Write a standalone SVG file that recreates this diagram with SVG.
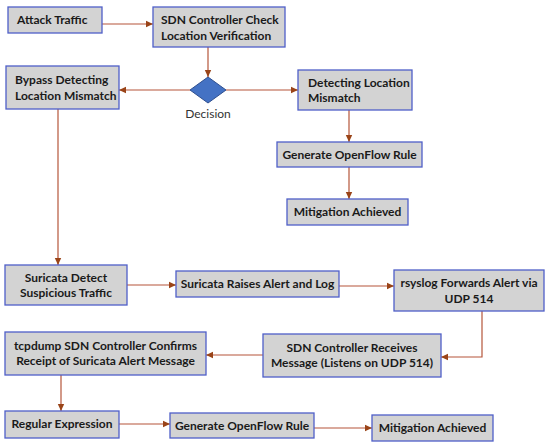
<svg xmlns="http://www.w3.org/2000/svg" width="550" height="447" viewBox="0 0 550 447">
<style>
.box{fill:#D3D3D3;stroke:#4F5FC8;stroke-width:1.3}
.t{font-family:Lato,"Liberation Sans",sans-serif;font-weight:bold;font-size:12px;fill:#1a1a1a}
.c{text-anchor:middle}
.ln{fill:none;stroke:#B5553A;stroke-width:1.2}
</style>
<defs>
<marker id="ah" markerUnits="userSpaceOnUse" markerWidth="8" markerHeight="8" refX="7" refY="4" orient="auto">
<path d="M0,0.8 L7,4 L0,7.2 Z" fill="#9A4418"/>
</marker>
</defs>
<rect width="550" height="447" fill="#fff"/>
<g id="connectors">
<line class="ln" x1="102" y1="24" x2="153" y2="24" marker-end="url(#ah)"/>
<line class="ln" x1="208" y1="47" x2="208" y2="77" marker-end="url(#ah)"/>
<line class="ln" x1="190" y1="90" x2="119" y2="90" marker-end="url(#ah)"/>
<line class="ln" x1="226" y1="90" x2="298" y2="90" marker-end="url(#ah)"/>
<line class="ln" x1="349" y1="110" x2="349" y2="142" marker-end="url(#ah)"/>
<line class="ln" x1="349" y1="167" x2="349" y2="199" marker-end="url(#ah)"/>
<line class="ln" x1="58" y1="109" x2="58" y2="265" marker-end="url(#ah)"/>
<line class="ln" x1="127" y1="285" x2="176" y2="285" marker-end="url(#ah)"/>
<line class="ln" x1="339" y1="286" x2="394" y2="286" marker-end="url(#ah)"/>
<polyline class="ln" points="482,311 482,357 441,357" marker-end="url(#ah)"/>
<line class="ln" x1="263" y1="355" x2="206" y2="355" marker-end="url(#ah)"/>
<line class="ln" x1="61" y1="375" x2="61" y2="411" marker-end="url(#ah)"/>
<line class="ln" x1="119" y1="424" x2="170" y2="424" marker-end="url(#ah)"/>
<line class="ln" x1="314" y1="428" x2="372" y2="428" marker-end="url(#ah)"/>
</g>
<g id="attack"><rect class="box" x="8" y="7" width="94" height="26"/><text class="t" x="17" y="24">Attack Traffic</text></g>
<g id="sdnCheck"><rect class="box" x="153" y="7" width="132" height="40"/><text class="t" x="161" y="24">SDN Controller Check</text><text class="t" x="161" y="40">Location Verification</text></g>
<g id="decision"><polygon points="208,77 226,90 208,103 190,90" fill="#4472C4" stroke="#2F4F8F" stroke-width="1"/><text x="208" y="118" text-anchor="middle" font-family="Lato,'Liberation Sans',sans-serif" font-size="12" fill="#333">Decision</text></g>
<g id="bypass"><rect class="box" x="6" y="66" width="113" height="43"/><text class="t" x="15" y="84">Bypass Detecting</text><text class="t" x="15" y="100">Location Mismatch</text></g>
<g id="detecting"><rect class="box" x="298" y="70" width="114" height="40"/><text class="t" x="308" y="87">Detecting Location</text><text class="t" x="308" y="102">Mismatch</text></g>
<g id="gen1"><rect class="box" x="277" y="142" width="145" height="25"/><text class="t c" x="349.5" y="159">Generate OpenFlow Rule</text></g>
<g id="mit1"><rect class="box" x="287" y="199" width="121" height="26"/><text class="t c" x="347.5" y="216">Mitigation Achieved</text></g>
<g id="suriDetect"><rect class="box" x="5" y="265" width="122" height="40"/><text class="t c" x="66" y="282">Suricata Detect</text><text class="t c" x="66" y="297">Suspicious Traffic</text></g>
<g id="suriRaise"><rect class="box" x="176" y="271" width="163" height="26"/><text class="t c" x="257.5" y="288">Suricata Raises Alert and Log</text></g>
<g id="rsyslog"><rect class="box" x="394" y="270" width="150" height="41"/><text class="t c" x="469" y="287">rsyslog Forwards Alert via</text><text class="t c" x="469" y="303">UDP 514</text></g>
<g id="sdnRecv"><rect class="box" x="263" y="334" width="178" height="43"/><text class="t c" x="352" y="352">SDN Controller Receives</text><text class="t c" x="352" y="367">Message (Listens on UDP 514)</text></g>
<g id="tcpdump"><rect class="box" x="5" y="332" width="201" height="43"/><text class="t c" x="105.5" y="350">tcpdump SDN Controller Confirms</text><text class="t c" x="105.5" y="365">Receipt of Suricata Alert Message</text></g>
<g id="regex"><rect class="box" x="5" y="411" width="114" height="27"/><text class="t c" x="62" y="428">Regular Expression</text></g>
<g id="gen2"><rect class="box" x="170" y="413" width="144" height="25"/><text class="t c" x="242" y="430">Generate OpenFlow Rule</text></g>
<g id="mit2"><rect class="box" x="372" y="415" width="121" height="26"/><text class="t c" x="432.5" y="432">Mitigation Achieved</text></g>
</svg>
